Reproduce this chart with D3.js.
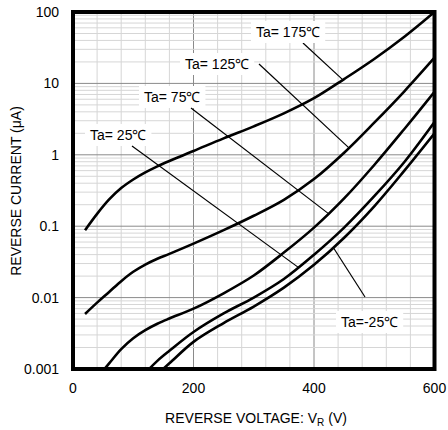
<!DOCTYPE html>
<html>
<head>
<meta charset="UTF-8">
<script src="https://d3js.org/d3.v7.min.js"></script>
<style>
html, body { margin: 0; padding: 0; background: #fff; }
svg { font-family: 'Liberation Sans', Arial, sans-serif; display: block; }
</style>
</head>
<body>
<script>
// reverse current (uA) vs reverse voltage (V), one set per ambient temperature
var v175 = [20, 40, 60, 80, 100, 120, 140, 160, 200, 250, 300, 350, 400, 450, 500, 550, 600];
var i175 = [0.088, 0.149, 0.237, 0.342, 0.451, 0.567, 0.69, 0.82, 1.13, 1.7, 2.5, 3.8, 6.2, 11.5, 22, 45, 100];

var v125 = [20, 40, 60, 80, 100, 120, 140, 160, 200, 250, 300, 350, 400, 450, 500, 550, 600];
var i125 = [0.0059, 0.0085, 0.012, 0.017, 0.023, 0.029, 0.035, 0.041, 0.057, 0.088, 0.14, 0.234, 0.457, 1.07, 2.82, 7.76, 22.9];

var v75 = [50, 60, 80, 100, 120, 140, 160, 200, 250, 300, 350, 400, 450, 500, 550, 600];
var i75 = [0.00095, 0.0012, 0.0019, 0.0027, 0.0035, 0.0043, 0.0051, 0.007, 0.0115, 0.0204, 0.0427, 0.0955, 0.245, 0.72, 2.3, 7.6];

var v25 = [120, 140, 160, 200, 250, 300, 350, 400, 450, 500, 550, 600];
var i25 = [0.00088, 0.0013, 0.0018, 0.0033, 0.006, 0.01, 0.0182, 0.0398, 0.0955, 0.263, 0.794, 2.88];

var vm25 = [140, 160, 200, 250, 300, 350, 400, 450, 500, 550, 600];
var im25 = [0.00085, 0.0012, 0.0024, 0.0044, 0.0075, 0.0138, 0.0288, 0.069, 0.19, 0.6, 2.0];

var xTicks = [0, 200, 400, 600];
var yTicks = [0.001, 0.01, 0.1, 1, 10, 100];
var yTickLabels = ["0.001", "0.01", "0.1", "1", "10", "100"];

// label text and the voltage where its leader meets the curve
var labelText = ["Ta= 175℃", "Ta= 125℃", "Ta= 75℃", "Ta= 25℃", "Ta=-25℃"];
var leaderV = [448, 458, 424, 374, 432];

var W = 448, H = 430;
var pl = 73, pr = 434.5, pt = 12, pb = 369;

var svg = d3.select("body").append("svg")
    .attr("width", W)
    .attr("height", H);

var x = d3.scaleLinear().domain([0, 600]).range([pl, pr]);
var y = d3.scaleLog().domain([0.001, 100]).range([pb, pt]);

// grid
var grid = svg.append("g");
d3.range(40, 600, 40).forEach(function(v) {
    var major = (v == 200 || v == 400);
    grid.append("line")
        .attr("x1", x(v)).attr("x2", x(v))
        .attr("y1", pt).attr("y2", pb)
        .attr("stroke", major ? "#8a8a8a" : "#d6d6d6")
        .attr("stroke-width", 1);
});
yTicks.slice(0, -1).forEach(function(d) {
    for (var k = 1; k < 10; k++) {
        var val = d * k;
        grid.append("line")
            .attr("x1", pl).attr("x2", pr)
            .attr("y1", y(val)).attr("y2", y(val))
            .attr("stroke", k == 1 ? "#8a8a8a" : "#d6d6d6")
            .attr("stroke-width", 1);
    }
});

// curves
var series = [[v175, i175], [v125, i125], [v75, i75], [v25, i25], [vm25, im25]];

svg.append("defs").append("clipPath").attr("id", "plot")
    .append("rect")
    .attr("x", pl).attr("y", pt)
    .attr("width", pr - pl).attr("height", pb - pt);

var line = d3.line()
    .x(function(d) { return x(d[0]); })
    .y(function(d) { return y(d[1]); })
    .curve(d3.curveCatmullRom.alpha(0.5));

var curves = svg.append("g").attr("clip-path", "url(#plot)");
series.forEach(function(s) {
    curves.append("path")
        .datum(d3.zip(s[0], s[1]))
        .attr("d", line)
        .attr("fill", "none")
        .attr("stroke", "#000")
        .attr("stroke-width", 2.6);
});

// current on a curve at voltage v (log interpolation)
function currentAt(s, v) {
    var vs = s[0], is = s[1];
    for (var k = 1; k < vs.length; k++) {
        if (v <= vs[k]) {
            var t = (v - vs[k - 1]) / (vs[k] - vs[k - 1]);
            return Math.pow(10, Math.log10(is[k - 1]) * (1 - t) + Math.log10(is[k]) * t);
        }
    }
    return is[is.length - 1];
}

// labels with leader lines
var labelPos = [[256, 37], [185, 69], [144, 102], [90, 140], [341, 327]];
var leaderStart = [[303, 43], [259, 64], [191, 108], [132, 146], [365, 297]];
var labels = svg.append("g");
labelText.forEach(function(t, i) {
    labels.append("line")
        .attr("x1", leaderStart[i][0]).attr("y1", leaderStart[i][1])
        .attr("x2", x(leaderV[i])).attr("y2", y(currentAt(series[i], leaderV[i])))
        .attr("stroke", "#000")
        .attr("stroke-width", 1.2);
    var txt = labels.append("text")
        .attr("x", labelPos[i][0])
        .attr("y", labelPos[i][1])
        .attr("font-size", 14)
        .attr("fill", "#000")
        .text(t);
    var bb = txt.node().getBBox();
    labels.insert("rect", "text")
        .attr("x", bb.x - 5).attr("y", bb.y - 3)
        .attr("width", bb.width + 10).attr("height", bb.height + 6)
        .attr("fill", "#fff");
});

// frame
svg.append("rect")
    .attr("x", pl).attr("y", pt)
    .attr("width", pr - pl).attr("height", pb - pt)
    .attr("fill", "none")
    .attr("stroke", "#000")
    .attr("stroke-width", 4);

// tick labels
svg.append("g").selectAll("text").data(xTicks).enter().append("text")
    .attr("x", function(d) { return x(d); })
    .attr("y", 393)
    .attr("text-anchor", "middle")
    .attr("font-size", 14)
    .text(function(d) { return d; });

svg.append("g").selectAll("text").data(yTicks).enter().append("text")
    .attr("x", 59)
    .attr("y", function(d) { return y(d) + 5; })
    .attr("text-anchor", "end")
    .attr("font-size", 14)
    .text(function(d, i) { return yTickLabels[i]; });

// axis titles
var xt = svg.append("text")
    .attr("x", 256)
    .attr("y", 423)
    .attr("text-anchor", "middle")
    .attr("font-size", 14);
xt.append("tspan").text("REVERSE VOLTAGE: V");
xt.append("tspan").attr("font-size", 10).attr("dy", 3).text("R");
xt.append("tspan").attr("dy", -3).text(" (V)");

svg.append("text")
    .attr("transform", "translate(21,191) rotate(-90)")
    .attr("text-anchor", "middle")
    .attr("font-size", 14)
    .text("REVERSE CURRENT (μA)");
</script>
</body>
</html>
